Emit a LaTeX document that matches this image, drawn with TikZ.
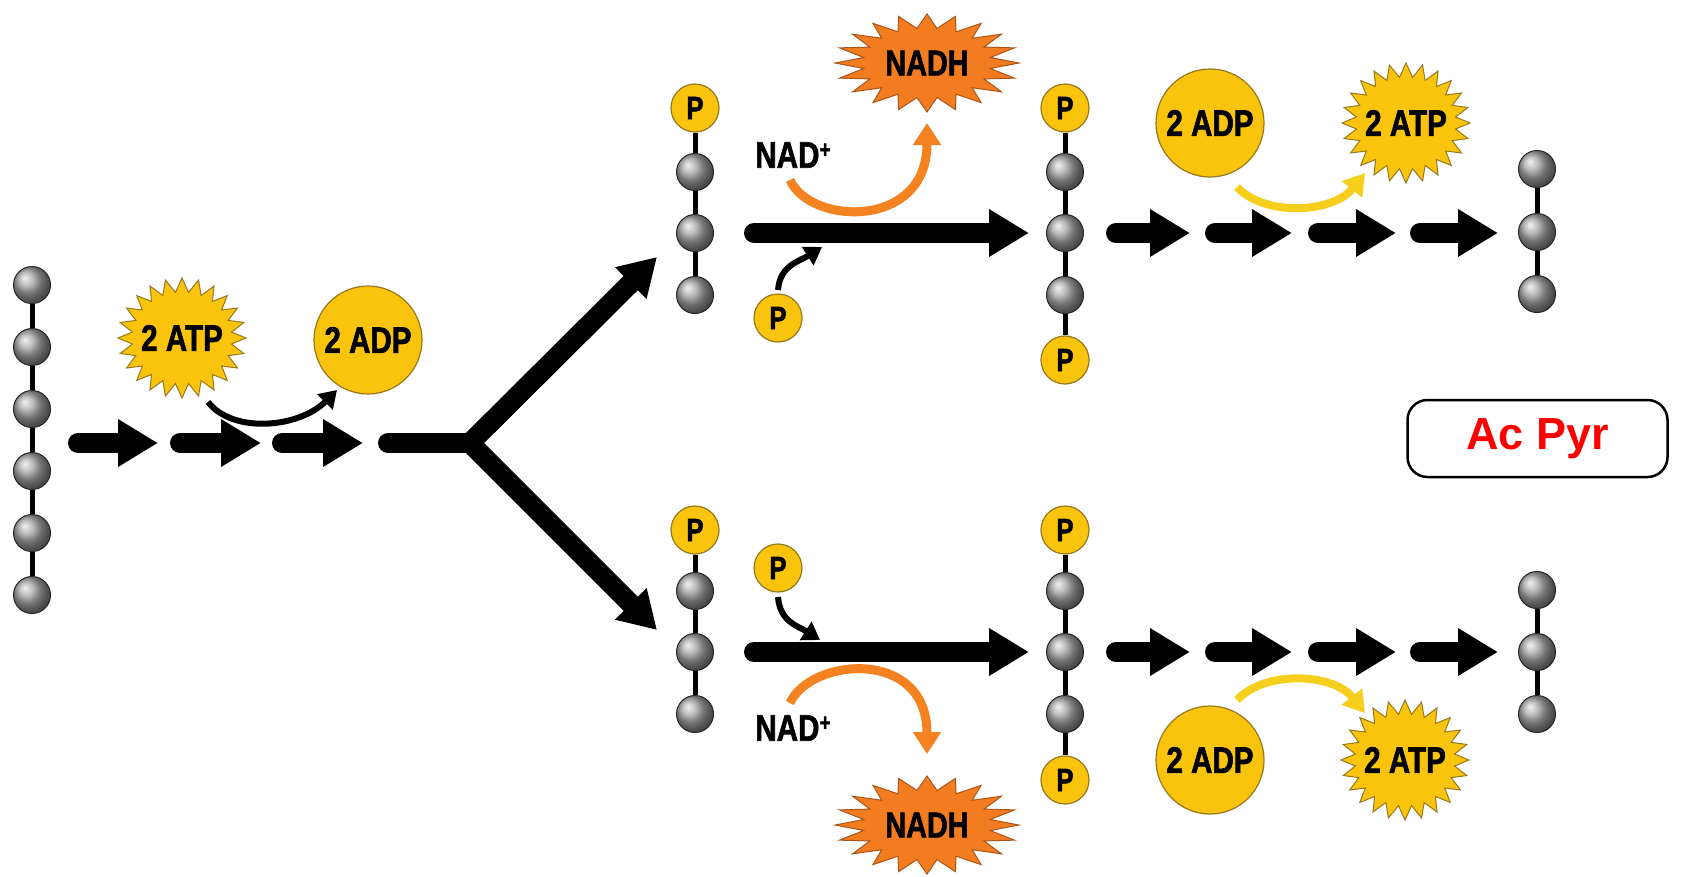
\documentclass[tikz,border=0pt]{standalone}
\usepackage{fontspec}
\usetikzlibrary{arrows.meta,calc}
\newfontfamily\cond{Liberation Sans Bold}[FakeStretch=0.8,FakeBold=1.6]
\newfontfamily\heavy{Liberation Sans Bold}
\definecolor{atpgold}{RGB}{250,196,12}
\definecolor{goldedge}{RGB}{150,120,30}
\definecolor{nadhorange}{RGB}{244,124,32}
\definecolor{nadhedge}{RGB}{170,85,25}
\definecolor{arcorange}{RGB}{245,130,32}
\definecolor{arcyellow}{RGB}{246,206,28}

% burst: centre x, centre y, outer rx, outer ry, inner rx, inner ry, points, style
\newcommand\burst[8]{%
  \filldraw[#8] (#1+#3,#2)
    \foreach \k in {1,...,#7}{
      -- ({#1+#5*cos((\k-0.5)*360/#7)},{#2+#6*sin((\k-0.5)*360/#7)})
      -- ({#1+#3*cos(\k*360/#7)},{#2+#4*sin(\k*360/#7)})
    } -- cycle;}

\tikzset{
  bead/.style={circle, minimum size=37pt, inner sep=0pt, shading=ball,
    ball color=gray!70, draw=black!85, line width=1pt},
  pball/.style={circle, minimum size=48pt, inner sep=0pt, fill=atpgold,
    draw=goldedge, line width=1.2pt, font=\cond\fontsize{32}{32}\selectfont},
  adpball/.style={circle, minimum size=108pt, inner sep=0pt, fill=atpgold,
    draw=goldedge, line width=1.2pt, font=\cond\fontsize{37}{37}\selectfont},
  lbl/.style={inner sep=0pt, font=\cond\fontsize{37}{37}\selectfont},
  nadhlbl/.style={inner sep=0pt, font=\cond\fontsize{36}{36}\selectfont},
  link/.style={line width=5pt},
  stepar/.style={line width=20pt, line cap=round, -{Triangle[length=40pt,width=45pt]}},
  forkar/.style={line width=20pt, -{Triangle[length=37pt,width=42pt]}},
  blackarc/.style={line width=6pt, -{Triangle[length=17pt,width=21pt]}},
  orangearc/.style={line width=9pt, arcorange, -{Triangle[length=22pt,width=27pt]}},
  yellowarc/.style={line width=8pt, arcyellow, -{Triangle[length=21pt,width=25pt]}},
  atpstar/.style={fill=atpgold, draw=goldedge, line width=1pt, line join=miter},
  nadhstar/.style={fill=nadhorange, draw=nadhedge, line width=1pt, line join=miter}
}

\begin{document}
\begin{tikzpicture}[x=1pt,y=-1pt]
\fill[white] (0,0) rectangle (1683,876);
\useasboundingbox (0,0) rectangle (1683,876);

% ---------- six-carbon chain ----------
\foreach \i/\y in {1/285,2/347,3/409,4/471,5/533,6/595}
  \node[bead] (L\i) at (32,\y) {};
\foreach \a/\b in {L1/L2,L2/L3,L3/L4,L4/L5,L5/L6}
  \draw[link] (\a) -- (\b);

% ---------- upper three-carbon chains ----------
\node[pball] (A0) at (695,108) {P};
\foreach \i/\y in {1/172,2/233,3/295} \node[bead] (A\i) at (695,\y) {};
\foreach \a/\b in {A0/A1,A1/A2,A2/A3} \draw[link] (\a) -- (\b);

\node[pball] (B0) at (1065,108) {P};
\foreach \i/\y in {1/172,2/233,3/295} \node[bead] (B\i) at (1065,\y) {};
\node[pball] (B4) at (1065,360) {P};
\foreach \a/\b in {B0/B1,B1/B2,B2/B3,B3/B4} \draw[link] (\a) -- (\b);

\foreach \i/\y in {1/169,2/232,3/294} \node[bead] (C\i) at (1537,\y) {};
\foreach \a/\b in {C1/C2,C2/C3} \draw[link] (\a) -- (\b);

% ---------- lower three-carbon chains ----------
\node[pball] (D0) at (695,530) {P};
\foreach \i/\y in {1/591,2/652,3/714} \node[bead] (D\i) at (695,\y) {};
\foreach \a/\b in {D0/D1,D1/D2,D2/D3} \draw[link] (\a) -- (\b);

\node[pball] (E0) at (1065,530) {P};
\foreach \i/\y in {1/591,2/652,3/714} \node[bead] (E\i) at (1065,\y) {};
\node[pball] (E4) at (1065,780) {P};
\foreach \a/\b in {E0/E1,E1/E2,E2/E3,E3/E4} \draw[link] (\a) -- (\b);

\foreach \i/\y in {1/590,2/652,3/714} \node[bead] (F\i) at (1537,\y) {};
\foreach \a/\b in {F1/F2,F2/F3} \draw[link] (\a) -- (\b);

% ---------- energy investment ----------
\burst{182}{338}{64}{60}{50}{46}{24}{atpstar}
\node[lbl] (atpL) at (182,338) {2 ATP};
\node[adpball] (adpL) at (368,340) {2 ADP};
\draw[blackarc] ($(atpL)+(26,64)$) .. controls +(25,32) and +(-38,38) .. ($(adpL)+(-31,50)$);

\foreach \s/\e in {78/158,180/261,282/363}
  \draw[stepar] (\s,443) -- (\e,443);

\coordinate (fork) at (470,443);
\coordinate (upT) at (657,257);
\coordinate (loT) at (657,630);
\draw[line width=20pt, line cap=round, line join=miter] (388,443) -- (fork);
\draw[forkar, line join=miter] (fork) -- (upT);
\draw[forkar, line join=miter] (fork) -- (loT);

% ---------- upper oxidation step ----------
\draw[stepar] ([xshift=40pt]A2.east) -- ([xshift=-17pt]B2.west);
\node[lbl] (nadU) at (793,155) {NAD\raisebox{10pt}{\fontsize{24}{24}\selectfont +}};
\burst{927}{63}{92}{49}{64}{35}{20}{nadhstar}
\node[nadhlbl] (nadhU) at (927,63) {NADH};
\draw[orangearc] ($(nadU)+(-3,25)$) .. controls +(20,45) and +(0,107) .. ($(nadhU)+(0,60)$);
\node[pball] (pU) at (778,318) {P};
\draw[blackarc] ($(pU)+(0,-28)$) .. controls +(2,-25) and +(-22,14) .. ($(pU)+(44,-71)$);

% ---------- lower oxidation step ----------
\draw[stepar] ([xshift=40pt]D2.east) -- ([xshift=-17pt]E2.west);
\node[lbl] (nadD) at (793,728) {NAD\raisebox{10pt}{\fontsize{24}{24}\selectfont +}};
\burst{927}{825}{92}{49}{64}{35}{20}{nadhstar}
\node[nadhlbl] (nadhD) at (927,825) {NADH};
\draw[orangearc] ($(nadD)+(-3,-25)$) .. controls +(20,-45) and +(0,-107) .. ($(nadhD)+(0,-71)$);
\node[pball] (pD) at (778,568) {P};
\draw[blackarc] ($(pD)+(0,29)$) .. controls +(2,25) and +(-22,-14) .. ($(pD)+(42,72)$);

% ---------- upper payoff ----------
\node[adpball] (adpU) at (1210,123) {2 ADP};
\burst{1406}{123}{64}{60}{50}{46}{24}{atpstar}
\node[lbl] (atpU) at (1406,123) {2 ATP};
\draw[yellowarc] ($(adpU)+(27,64)$) .. controls +(28,30) and +(-32,40) .. ($(atpU)+(-41,50)$);
\foreach \s/\e in {32/106,131/208,234/312,336/414}
  \draw[stepar] ([xshift=\s pt]B2.east) -- ([xshift=\e pt]B2.east);

% ---------- lower payoff ----------
\node[adpball] (adpD) at (1210,760) {2 ADP};
\burst{1405}{760}{64}{60}{50}{46}{24}{atpstar}
\node[lbl] (atpD) at (1405,760) {2 ATP};
\draw[yellowarc] ($(adpD)+(27,-60)$) .. controls +(28,-30) and +(-32,-40) .. ($(atpD)+(-40,-47)$);
\foreach \s/\e in {32/106,131/208,234/312,336/414}
  \draw[stepar] ([xshift=\s pt]E2.east) -- ([xshift=\e pt]E2.east);

% ---------- label box ----------
\node[draw, rounded corners=20pt, line width=2.5pt, minimum width=260pt,
  minimum height=77pt, text=red, font=\heavy\fontsize{45}{45}\selectfont]
  (acpyr) at (1537.5,438.5) {Ac Pyr};
\end{tikzpicture}
\end{document}
